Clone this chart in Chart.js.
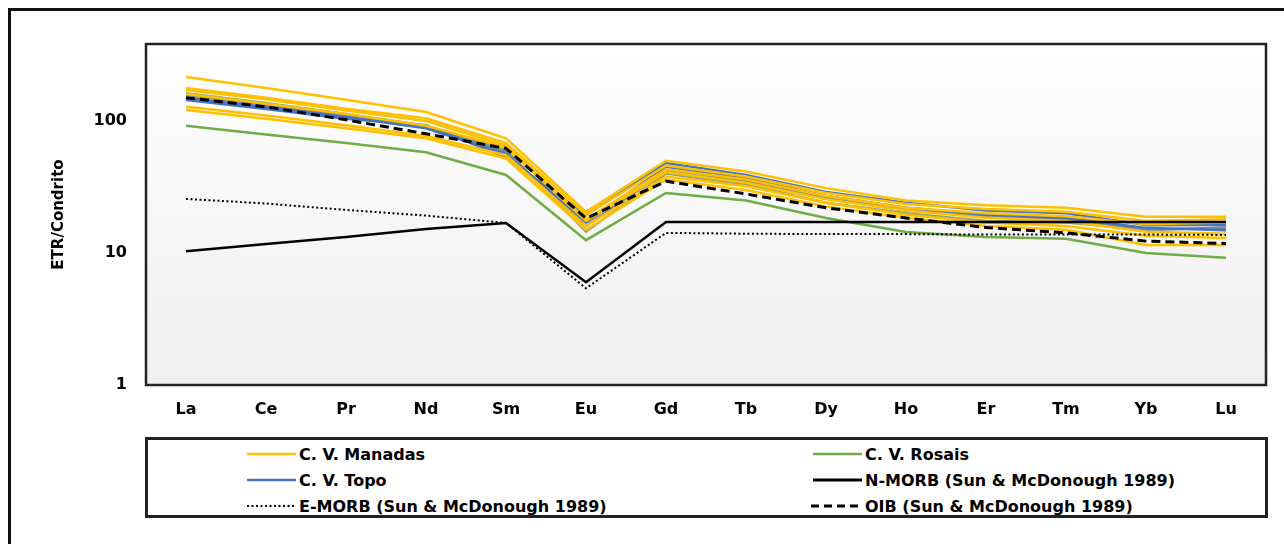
<!DOCTYPE html>
<html>
<head>
<meta charset="utf-8">
<script src="https://cdn.jsdelivr.net/npm/chart.js@4.4.1/dist/chart.umd.min.js"></script>
<style>
html,body{margin:0;padding:0;background:#fff;}
#wrap{position:relative;width:1284px;height:544px;overflow:hidden;background:#fff;}
#frame{position:absolute;left:8px;top:8px;width:1300px;height:560px;border-left:3px solid #111;border-top:3px solid #111;}
#c{position:absolute;left:0;top:0;}
#legend{position:absolute;left:145px;top:437px;width:1123px;height:81px;box-sizing:border-box;border:3px solid #222;background:#fff;}
.item{position:absolute;height:20px;display:flex;align-items:center;font-family:"DejaVu Sans",sans-serif;font-weight:bold;font-size:16px;color:#000;white-space:nowrap;}
.item svg{display:block;margin-right:3px;}
</style>
</head>
<body>
<div id="wrap">
  <div id="frame"></div>
  <canvas id="c" width="1284" height="544"></canvas>
  <div id="legend"></div>
</div>
<script>
// ---------- data ----------
const categories = ['La','Ce','Pr','Nd','Sm','Eu','Gd','Tb','Dy','Ho','Er','Tm','Yb','Lu'];
const yTicks = [1, 10, 100];
const yTitle = 'ETR/Condrito';

// C. V. Manadas samples
const manadas1 = [215, 178, 145, 117, 74, 20.5, 50, 41.5, 31, 25, 23, 22, 18.8, 18.8];
const manadas2 = [178, 150, 124, 105, 68, 19.5, 46, 38, 28.5, 23.5, 21.5, 20.5, 17.5, 18];
const manadas3 = [172, 146, 120, 100, 65, 18, 43, 36, 27, 22, 20, 19, 16.5, 17];
const manadas4 = [160, 135, 113, 92, 63, 17.5, 41, 34, 25.5, 21, 18.5, 17.5, 14.5, 14];
const manadas5 = [128, 110, 93, 77, 55, 16, 38, 32, 24, 19.5, 17, 16, 13.5, 13];
const manadas6 = [121, 104, 88, 74, 52, 15, 36, 30, 22.5, 18.5, 16, 15, 11.5, 11.5];
// C. V. Topo samples
const topo1 = [144, 123, 104, 93, 53, 19.4, 48, 39, 29, 24, 21, 20, 16.3, 16.3];
const topo2 = [150, 127, 107, 88, 56, 17, 45, 37, 27, 22, 19.5, 18.5, 15.5, 14.9];
const topo3 = [157, 132, 110, 90, 58, 16, 42, 35, 26, 21, 19, 18, 15, 15.5];
// C. V. Rosais samples
const rosais1 = [92, 79, 68, 58, 39, 12.5, 28.5, 25, 18.4, 14.4, 13.2, 12.8, 10, 9.2];
const rosais2 = [162, 137, 113, 92, 60, 14.5, 40, 33, 24, 20, 17.5, 17, 15, 15.5];
// References (Sun & McDonough 1989)
const nmorb = [10.3, 11.7, 13.2, 15.2, 16.9, 6.0, 17.2, 17.2, 17.2, 17.2, 17.2, 17.2, 17.2, 17.2];
const emorb = [25.7, 23.7, 21.2, 19.2, 16.9, 5.4, 14.2, 14.0, 13.9, 13.9, 13.8, 13.8, 13.8, 13.7];
const oib   = [150, 128, 102, 80, 62, 18.3, 35, 28, 22, 18.4, 15.6, 14.2, 12.3, 11.8];

// ---------- styles ----------
const YELLOW = '#FFC000', BLUE = '#4472C4', GREEN = '#70AD47', BLACK = '#000000';

function sample(label, data, color, order) {
  return {label, data, borderColor: color, backgroundColor: color, borderWidth: 2.5,
          pointRadius: 0, tension: 0, fill: false, order};
}
const datasets = [
  sample('N-MORB (Sun & McDonough 1989)', nmorb, BLACK, 1),
  Object.assign(sample('E-MORB (Sun & McDonough 1989)', emorb, BLACK, 1), {borderWidth: 2, borderDash: [2, 2.5]}),
  Object.assign(sample('OIB (Sun & McDonough 1989)', oib, BLACK, 0), {borderWidth: 3, borderDash: [9, 5]}),
  sample('C. V. Manadas', manadas1, YELLOW, 3),
  sample('C. V. Manadas', manadas2, YELLOW, 3),
  sample('C. V. Manadas', manadas3, YELLOW, 3),
  sample('C. V. Manadas', manadas4, YELLOW, 3),
  sample('C. V. Manadas', manadas5, YELLOW, 3),
  sample('C. V. Manadas', manadas6, YELLOW, 3),
  sample('C. V. Topo', topo1, BLUE, 4),
  sample('C. V. Topo', topo2, BLUE, 4),
  sample('C. V. Topo', topo3, '#6F88A8', 4),
  sample('C. V. Rosais', rosais1, GREEN, 2),
  sample('C. V. Rosais', rosais2, '#8FA37A', 5)
];

const FONT = '"DejaVu Sans", sans-serif';

const framePlugin = {
  id: 'framePlugin',
  beforeDatasetsDraw(chart) {
    const {ctx, chartArea: a} = chart;
    ctx.save();
    const g = ctx.createLinearGradient(0, a.top, 0, a.bottom);
    g.addColorStop(0, '#ffffff');
    g.addColorStop(1, '#efefef');
    ctx.fillStyle = g;
    ctx.fillRect(a.left, a.top, a.right - a.left, a.bottom - a.top);
    ctx.restore();
  },
  afterDraw(chart) {
    const {ctx, chartArea: a} = chart;
    ctx.save();
    ctx.strokeStyle = '#222';
    ctx.lineWidth = 2.5;
    ctx.strokeRect(a.left, a.top, a.right - a.left, a.bottom - a.top);
    ctx.translate(59, (a.top + a.bottom) / 2);
    ctx.rotate(-Math.PI / 2);
    ctx.fillStyle = '#000';
    ctx.font = 'bold 15px ' + FONT;
    ctx.textAlign = 'center';
    ctx.textBaseline = 'middle';
    ctx.fillText(yTitle, 0, 0);
    ctx.restore();
  }
};

new Chart(document.getElementById('c'), {
  type: 'line',
  data: {labels: categories, datasets},
  options: {
    responsive: false,
    animation: false,
    devicePixelRatio: 1,
    layout: {padding: {left: 0, top: 44, right: 18, bottom: 119}},
    plugins: {legend: {display: false}, tooltip: {enabled: false}},
    scales: {
      x: {
        type: 'category', offset: true,
        grid: {display: false, drawTicks: false}, border: {display: false},
        ticks: {color: '#000', font: {family: FONT, weight: 'bold', size: 16}, padding: 15, maxRotation: 0, autoSkip: false},
        afterFit(s) { s.height = 40; }
      },
      y: {
        type: 'logarithmic', min: 1, max: 383,
        grid: {display: false, drawTicks: false}, border: {display: false},
        ticks: {color: '#000', font: {family: FONT, weight: 'bold', size: 16}, padding: 19,
                callback: v => String(v)},
        afterBuildTicks(s) { s.ticks = yTicks.map(v => ({value: v})); },
        afterFit(s) { s.width = 146; }
      }
    }
  },
  plugins: [framePlugin]
});

// ---------- legend ----------
const legendItems = [
  {text: 'C. V. Manadas', color: YELLOW, dash: null, w: 2.5, x: 244, y: 451},
  {text: 'C. V. Rosais', color: GREEN, dash: null, w: 2.5, x: 810, y: 451},
  {text: 'C. V. Topo', color: BLUE, dash: null, w: 2.5, x: 244, y: 477},
  {text: 'N-MORB (Sun & McDonough 1989)', color: BLACK, dash: null, w: 3, x: 810, y: 477},
  {text: 'E-MORB (Sun & McDonough 1989)', color: BLACK, dash: '2,2.5', w: 2, x: 244, y: 503},
  {text: 'OIB (Sun & McDonough 1989)', color: BLACK, dash: '8,5', w: 3, x: 808, y: 503}
];
const leg = document.getElementById('legend');
legendItems.forEach(it => {
  const d = document.createElement('div');
  d.className = 'item';
  d.style.left = (it.x - 145) + 'px';
  d.style.top = (it.y - 437 - 10) + 'px';
  const sw = it.text.startsWith('OIB') ? 51 : 49;
  d.innerHTML = '<svg width="' + sw + '" height="8"><line x1="0" y1="4" x2="' + sw + '" y2="4" stroke="' + it.color +
    '" stroke-width="' + it.w + '"' + (it.dash ? ' stroke-dasharray="' + it.dash + '"' : '') + '/></svg>';
  const s = document.createElement('span');
  s.textContent = it.text;
  d.appendChild(s);
  leg.appendChild(d);
});
</script>
</body>
</html>
